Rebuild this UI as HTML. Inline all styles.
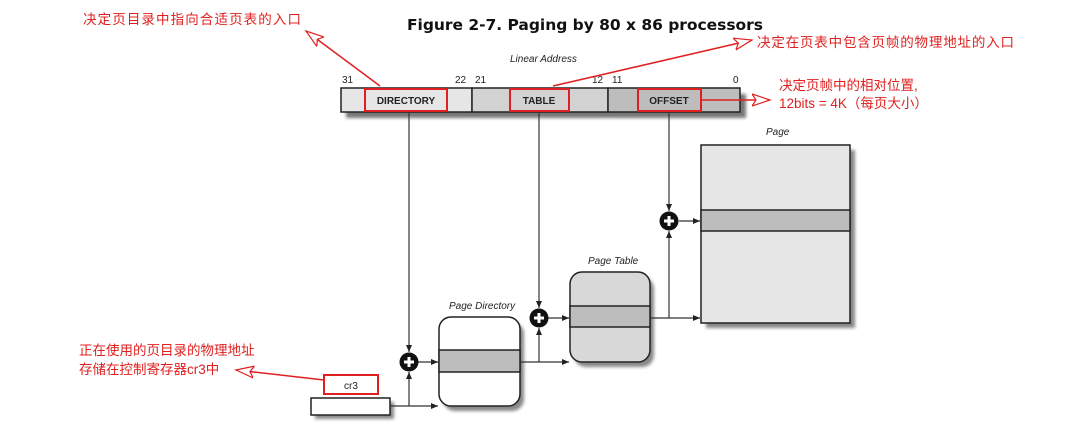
<!DOCTYPE html>
<html><head><meta charset="utf-8"><style>
html,body{margin:0;padding:0;background:#fff;}
svg{display:block;}
.cn{font-family:"Liberation Sans","Noto Sans CJK SC",sans-serif;fill:#e02020;font-size:13.5px;}
.it{font-family:"Liberation Sans",sans-serif;font-style:italic;font-size:10px;fill:#222;}
.lb{font-family:"Liberation Sans",sans-serif;font-weight:bold;font-size:10px;fill:#222;}
.nm{font-family:"Liberation Sans",sans-serif;font-size:10px;fill:#222;}
</style></head><body>
<svg width="1080" height="439" viewBox="0 0 1080 439" xmlns="http://www.w3.org/2000/svg">
<defs>
<marker id="a" markerWidth="8" markerHeight="8" refX="7" refY="4" orient="auto" markerUnits="userSpaceOnUse"><path d="M0,1 L7,4 L0,7 z" fill="#222"/></marker>
<marker id="h" markerWidth="20" markerHeight="14" refX="18" refY="7" orient="auto" markerUnits="userSpaceOnUse"><path d="M0,1 L18,7 L0,13 L4,7 z" fill="#fff" stroke="#e02020" stroke-width="1.2"/></marker>
<filter id="s" x="-10%" y="-10%" width="130%" height="140%"><feGaussianBlur stdDeviation="1.5"/></filter>
</defs>
<text x="407" y="30" font-family="DejaVu Sans, Liberation Sans, sans-serif" font-weight="bold" font-size="15.5" textLength="356" fill="#111">Figure 2-7. Paging by 80 x 86 processors</text>

<text x="510" y="62" class="it">Linear Address</text>
<text x="342" y="83" class="nm">31</text><text x="455" y="83" class="nm">22</text><text x="475" y="83" class="nm">21</text>
<text x="592" y="83" class="nm">12</text><text x="612" y="83" class="nm">11</text><text x="733" y="83" class="nm">0</text>
<rect x="346" y="94" width="400" height="24" fill="#777" filter="url(#s)"/>
<rect x="341" y="88" width="131" height="24" fill="#e6e6e6" stroke="#222" stroke-width="1.5"/>
<rect x="472" y="88" width="136" height="24" fill="#d2d2d2" stroke="#222" stroke-width="1.5"/>
<rect x="608" y="88" width="132" height="24" fill="#bdbdbd" stroke="#222" stroke-width="1.5"/>
<text x="406" y="104" class="lb" text-anchor="middle">DIRECTORY</text>
<text x="539" y="104" class="lb" text-anchor="middle">TABLE</text>
<text x="669" y="104" class="lb" text-anchor="middle">OFFSET</text>
<rect x="365" y="89" width="82" height="22" fill="none" stroke="#e02020" stroke-width="2"/>
<rect x="510" y="89" width="59" height="22" fill="none" stroke="#e02020" stroke-width="2"/>
<rect x="638" y="89" width="63" height="22" fill="none" stroke="#e02020" stroke-width="2"/>

<text x="766" y="135" class="it">Page</text>
<rect x="706" y="150" width="149" height="178" fill="#888" filter="url(#s)"/>
<rect x="701" y="145" width="149" height="178" fill="#e6e6e6" stroke="#222" stroke-width="1.5"/>
<rect x="701" y="210" width="149" height="21" fill="#bdbdbd" stroke="#222" stroke-width="1.5"/>

<text x="588" y="264" class="it">Page Table</text>
<rect x="574" y="277" width="80" height="90" rx="12" fill="#888" filter="url(#s)"/>
<rect x="570" y="272" width="80" height="90" rx="12" fill="#d8d8d8" stroke="#222" stroke-width="1.5"/>
<rect x="570" y="306" width="80" height="21" fill="#bdbdbd" stroke="#222" stroke-width="1.5"/>

<text x="449" y="309" class="it">Page Directory</text>
<rect x="443" y="322" width="81" height="89" rx="12" fill="#888" filter="url(#s)"/>
<rect x="439" y="317" width="81" height="89" rx="12" fill="#fff" stroke="#222" stroke-width="1.5"/>
<rect x="439" y="350" width="81" height="22" fill="#bdbdbd" stroke="#222" stroke-width="1.5"/>

<rect x="315" y="402" width="79" height="17" fill="#888" filter="url(#s)"/>
<rect x="311" y="398" width="79" height="17" fill="#fff" stroke="#222" stroke-width="1.5"/>
<rect x="324" y="375" width="54" height="19" fill="#fff" stroke="#e02020" stroke-width="2"/>
<text x="351" y="389" class="nm" text-anchor="middle">cr3</text>

<g stroke="#333" stroke-width="1.2" fill="none">
<line x1="409" y1="112" x2="409" y2="352" marker-end="url(#a)"/>
<line x1="539" y1="112" x2="539" y2="308" marker-end="url(#a)"/>
<line x1="669" y1="112" x2="669" y2="211" marker-end="url(#a)"/>
<line x1="390" y1="406" x2="438" y2="406" marker-end="url(#a)"/>
<line x1="409" y1="406" x2="409" y2="372" marker-end="url(#a)"/>
<line x1="418" y1="362" x2="438" y2="362" marker-end="url(#a)"/>
<line x1="520" y1="362" x2="569" y2="362" marker-end="url(#a)"/>
<line x1="539" y1="362" x2="539" y2="328" marker-end="url(#a)"/>
<line x1="548" y1="318" x2="569" y2="318" marker-end="url(#a)"/>
<line x1="650" y1="318" x2="700" y2="318" marker-end="url(#a)"/>
<line x1="669" y1="318" x2="669" y2="231" marker-end="url(#a)"/>
<line x1="679" y1="221" x2="700" y2="221" marker-end="url(#a)"/>
</g>
<g>
<circle cx="409" cy="362" r="9.5" fill="#111"/><path d="M409,357v10M404,362h10" stroke="#fff" stroke-width="3"/>
<circle cx="539" cy="318" r="9.5" fill="#111"/><path d="M539,313v10M534,318h10" stroke="#fff" stroke-width="3"/>
<circle cx="669" cy="221" r="9.5" fill="#111"/><path d="M669,216v10M664,221h10" stroke="#fff" stroke-width="3"/>
</g>

<text x="83" y="24" class="cn" textLength="218">决定页目录中指向合适页表的入口</text>
<text x="757" y="47" class="cn" textLength="257">决定在页表中包含页帧的物理地址的入口</text>
<text x="779" y="90" class="cn">决定页帧中的相对位置,</text>
<text x="779" y="108" class="cn">12bits = 4K（每页大小）</text>
<text x="79" y="355" class="cn">正在使用的页目录的物理地址</text>
<text x="79" y="374" class="cn">存储在控制寄存器cr3中</text>
<g stroke="#e02020" stroke-width="1.5" fill="none">
<line x1="380" y1="86" x2="306" y2="31" marker-end="url(#h)"/>
<line x1="553" y1="86" x2="752" y2="40" marker-end="url(#h)"/>
<line x1="701" y1="100" x2="770" y2="100" marker-end="url(#h)"/>
<line x1="324" y1="380" x2="236" y2="370" marker-end="url(#h)"/>
</g>
</svg>
</body></html>
